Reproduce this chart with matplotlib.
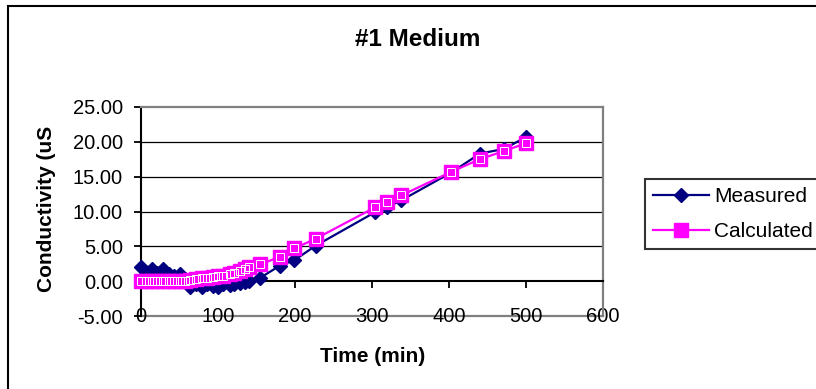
import matplotlib
matplotlib.use("Agg")
import matplotlib.pyplot as plt
from matplotlib.patches import Rectangle

plt.rcParams['font.family'] = ['Liberation Sans', 'DejaVu Sans']

# time points (min)
time_min = [0, 7, 14, 21, 29, 36, 43, 50, 57, 64, 71, 79, 86, 93, 100, 107,
            115, 121, 128, 135, 140, 155, 180, 199, 227, 304, 319, 338, 403,
            440, 472, 500]

measured = [2.1, 1.3, 1.8, 1.2, 1.8, 1.0, 0.8, 1.1, 0.3, -0.8, -0.4, -0.8,
            -0.4, -0.7, -0.8, -0.4, -0.6, -0.4, -0.3, -0.1, 0.0, 0.5, 2.2,
            3.0, 5.1, 9.9, 10.6, 11.6, 15.6, 18.3, 19.0, 20.7]

calculated = [0.0, 0.0, 0.0, 0.0, 0.0, 0.0, 0.0, 0.0, 0.05, 0.1, 0.3, 0.4,
              0.5, 0.6, 0.7, 0.8, 1.0, 1.2, 1.5, 1.8, 2.0, 2.4, 3.5, 4.7,
              6.1, 10.6, 11.4, 12.3, 15.7, 17.5, 18.7, 19.8]

x_ticks = [0, 100, 200, 300, 400, 500, 600]
y_ticks = [-5, 0, 5, 10, 15, 20, 25]

navy = '#000080'
pink = '#FF00FF'
gray = '#808080'

fig = plt.figure(figsize=(8.16, 3.89), dpi=100)
ax = fig.add_axes([141/816, 73/389, 462/816, 209/389])

# outer chart frame (right and bottom are off the picture)
fig.patches.append(Rectangle((8/816, -0.1), 1.2, 1 - 6/389 + 0.1,
                             transform=fig.transFigure, fill=False,
                             edgecolor='black', linewidth=1.5))

for g in [5, 10, 15, 20]:
    ax.axhline(g, color='black', linewidth=0.9, zorder=1)
ax.axhline(-5, color=gray, linewidth=1.6, clip_on=False, zorder=1)

ax.plot(time_min, measured, color=navy, linewidth=1.6, marker='D',
        markersize=7.6, markerfacecolor=navy, markeredgecolor=navy,
        label='Measured', clip_on=False, zorder=3)
ax.plot(time_min, calculated, color=pink, linewidth=1.6, marker='s',
        markersize=9.5, markerfacecolor=pink, markeredgecolor=pink,
        label='Calculated', clip_on=False, zorder=4)
ax.plot(time_min, calculated, linestyle='none', marker='s', markersize=6.2,
        markerfacecolor='none', markeredgecolor='white',
        markeredgewidth=0.7, clip_on=False, zorder=5)

ax.set_xlim(0, 600)
ax.set_ylim(-5, 25)
ax.set_xticks(x_ticks)
ax.set_xticklabels([str(v) for v in x_ticks])
ax.set_yticks(y_ticks)
ax.set_yticklabels(['%.2f' % v for v in y_ticks])

ax.spines['bottom'].set_position(('data', 0))
ax.spines['bottom'].set_color('black')
ax.spines['bottom'].set_linewidth(1.5)
ax.spines['left'].set_color('black')
ax.spines['left'].set_linewidth(1.5)
ax.spines['top'].set_color(gray)
ax.spines['top'].set_linewidth(1.6)
ax.spines['right'].set_color(gray)
ax.spines['right'].set_linewidth(1.6)

ax.tick_params(axis='x', direction='out', length=5, width=1.3, pad=13.5,
               labelsize=14.5, colors='black')
ax.tick_params(axis='y', direction='out', length=5, width=1.3, pad=8,
               labelsize=14.5, colors='black')

fig.text(418/816, 1 - 40/389, '#1 Medium', ha='center', va='center',
         fontsize=17.5, fontweight='bold')
fig.text(373/816, 1 - 356/389, 'Time (min)', ha='center', va='center',
         fontsize=15, fontweight='bold')
fig.text(47/816, 1 - 209/389, 'Conductivity (uS', ha='center', va='center',
         rotation=90, fontsize=15, fontweight='bold')

leg = fig.legend(loc='upper left', bbox_to_anchor=(645/816, 1 - 179/389),
                 fontsize=15, frameon=True, fancybox=False, handlelength=2.65,
                 handletextpad=0.25, labelspacing=0.75, borderpad=0.4,
                 borderaxespad=0)
leg.get_frame().set_edgecolor('black')
leg.get_frame().set_linewidth(1.5)

plt.savefig('out.png', dpi=100)
